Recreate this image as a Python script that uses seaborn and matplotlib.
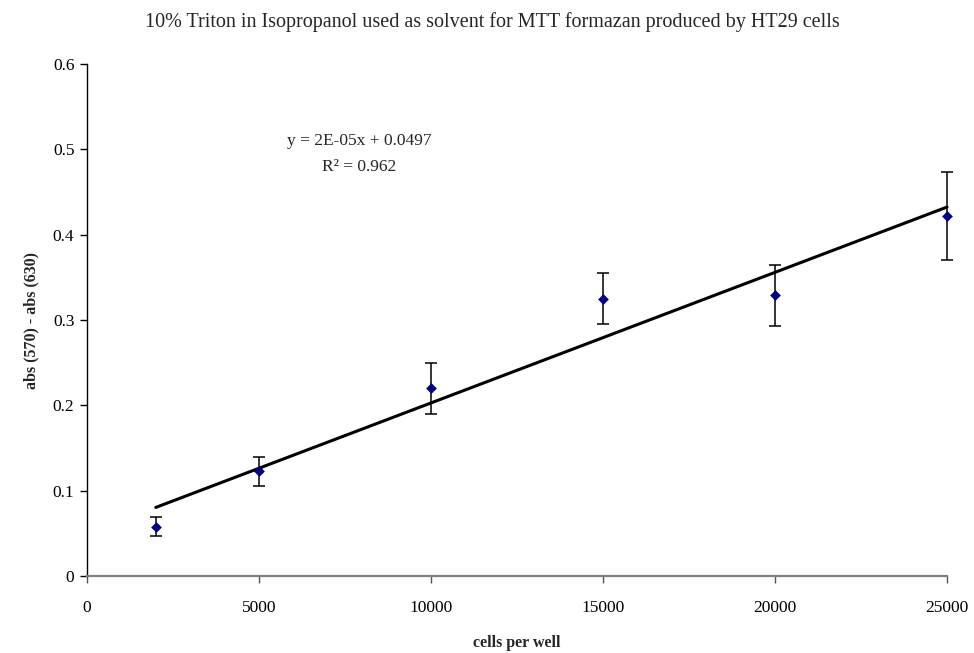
import numpy as np
import pandas as pd
import matplotlib
matplotlib.use("Agg")
import matplotlib.pyplot as plt
import seaborn as sns

# Cells seeded per well and background-corrected absorbance
cells = [2000, 5000, 10000, 15000, 20000, 25000]
absorbance = [0.058, 0.123, 0.220, 0.325, 0.329, 0.422]
abs_err = [0.011, 0.017, 0.030, 0.030, 0.036, 0.052]

title = "10% Triton in Isopropanol used as solvent for MTT formazan produced by HT29 cells"
x_label = "cells per well"
y_label = "abs (570) - abs (630)"
x_ticks = [0, 5000, 10000, 15000, 20000, 25000]
y_ticks = [0, 0.1, 0.2, 0.3, 0.4, 0.5, 0.6]
eq_text = "y = 2E-05x + 0.0497"
r2_text = "R\u00b2 = 0.962"

sns.set_theme(style="white")
plt.rcParams["font.family"] = ["Liberation Serif", "DejaVu Serif"]

df = pd.DataFrame({"cells": cells, "abs": absorbance, "err": abs_err})

# Linear least-squares trendline over the measured range
slope, intercept = np.polyfit(df["cells"], df["abs"], 1)
trend = pd.DataFrame({"cells": [min(cells), max(cells)]})
trend["abs"] = intercept + slope * trend["cells"]

fig = plt.figure(figsize=(9.74, 6.53), dpi=100)
ax = fig.add_axes([0.0893, 0.1179, 0.8830, 0.7841])

sns.lineplot(data=trend, x="cells", y="abs", color="black", linewidth=2.2, ax=ax,
             zorder=2, clip_on=False)
eb = ax.errorbar(df["cells"], df["abs"], yerr=df["err"], fmt="none", ecolor="black",
                 elinewidth=1.1, capsize=4, capthick=1.1, zorder=3)
for artist in eb.lines[1] + eb.lines[2]:
    artist.set_clip_on(False)
sns.scatterplot(data=df, x="cells", y="abs", marker="D", s=30, color="#000080",
                edgecolor="#000080", linewidth=0, ax=ax, zorder=4, clip_on=False)

ax.set_xlim(0, 25000)
ax.set_ylim(0, 0.6)
ax.set_xticks(x_ticks)
ax.set_xticklabels([str(t) for t in x_ticks])
ax.set_yticks(y_ticks)
ax.set_yticklabels(["0"] + [f"{t:.1f}" for t in y_ticks[1:]])
ax.tick_params(axis="both", which="major", labelsize=12.5, colors="black",
               direction="out", length=5, width=1, bottom=True, left=True)
ax.tick_params(axis="x", pad=12, color="#555555")
ax.tick_params(axis="y", pad=4)

for side in ("top", "right"):
    ax.spines[side].set_visible(False)
ax.spines["left"].set_color("black")
ax.spines["left"].set_linewidth(1)
ax.spines["bottom"].set_color("#808080")
ax.spines["bottom"].set_linewidth(1.6)

ax.set_xlabel(x_label, fontsize=11.5, fontweight="bold", labelpad=14)
ax.set_ylabel(y_label, fontsize=11.5, fontweight="bold", labelpad=10)

fig.text(0.506, 0.966, title, ha="center", va="center", fontsize=14.5)

ax.text(7900, 0.510, eq_text, ha="center", va="center", fontsize=12.5)
ax.text(7900, 0.479, r2_text, ha="center", va="center", fontsize=12.5)

fig.savefig("out.png", dpi=100, facecolor="white")
